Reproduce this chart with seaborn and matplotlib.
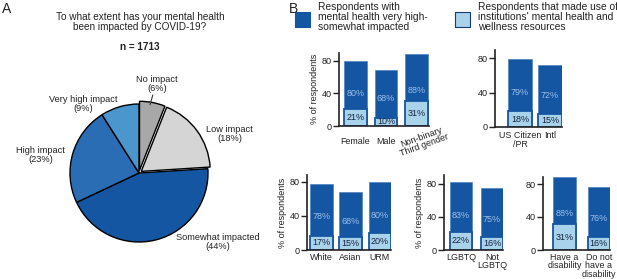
import matplotlib
matplotlib.use("Agg")
import matplotlib.pyplot as plt
from matplotlib.patches import Rectangle
from matplotlib.transforms import ScaledTranslation
import seaborn as sns
import pandas as pd

# ---------------- data ----------------
pie_labels = ["No impact", "Low impact", "Somewhat impacted", "High impact", "Very high impact"]
pie_values = [6, 18, 44, 23, 9]

gender_cats = ["Female", "Male", "Non-binary\nThird gender"]
gender_impacted = [80, 68, 88]
gender_resources = [21, 10, 31]

citizen_cats = ["US Citizen\n/PR", "Intl"]
citizen_impacted = [79, 72]
citizen_resources = [18, 15]

race_cats = ["White", "Asian", "URM"]
race_impacted = [78, 68, 80]
race_resources = [17, 15, 20]

lgbtq_cats = ["LGBTQ", "Not\nLGBTQ"]
lgbtq_impacted = [83, 75]
lgbtq_resources = [22, 16]

disab_cats = ["Have a\ndisability", "Do not\nhave a\ndisability"]
disab_impacted = [88, 76]
disab_resources = [31, 16]

legend_labels = ["Respondents with\nmental health very high-\nsomewhat impacted",
                 "Respondents that made use of\ninstitutions' mental health and\nwellness resources"]

# ---------------- style ----------------
sns.set_theme(style="white")
plt.rcParams["font.family"] = ["Liberation Sans", "DejaVu Sans"]

DARK = "#1556a2"
LIGHT = "#a9d3ea"
DARK_TXT = "#9cc0ea"
LIGHT_TXT = "#15243f"
pie_colors = ["#a8a8a8", "#d5d5d5", "#1556a2", "#2a6db4", "#4b97cd"]

W, H = 617, 279
fig = plt.figure(figsize=(W / 100, H / 100), dpi=100)


def px_axes(x0, ytop, x1, ybot):
    return fig.add_axes([x0 / W, 1 - ybot / H, (x1 - x0) / W, (ybot - ytop) / H])


# ---------------- Panel A: pie ----------------
cx, cy, R = 139, 173, 69
axp = px_axes(0, 60, 280, 279)
wedges, _ = axp.pie(pie_values, colors=pie_colors, startangle=90, counterclock=False,
                    explode=[0.04, 0.04, 0, 0, 0],
                    wedgeprops=dict(edgecolor="black", linewidth=1.0))
axp.set_aspect("auto")
axp.set_xlim((0 - cx) / R, (280 - cx) / R)
axp.set_ylim((cy - 279) / R, (cy - 60) / R)
axp.axis("off")

lab_pos = {"No impact": (0.26, 1.29), "Low impact": (1.31, 0.565),
           "Somewhat impacted": (1.14, -1.0), "High impact": (-1.43, 0.254),
           "Very high impact": (-0.81, 1.0)}
for lab, v in zip(pie_labels, pie_values):
    x, y = lab_pos[lab]
    axp.text(x, y, f"{lab}\n({v}%)", ha="center", va="center", fontsize=6.7,
             color="#222222", linespacing=1.0)
axp.plot([0.20, 0.16], [1.13, 0.99], color="#333333", lw=0.8)

fig.text(140 / W, 1 - 22 / H, "To what extent has your mental health\nbeen impacted by COVID-19?",
         ha="center", va="center", fontsize=7.2, color="#222222", linespacing=1.05)
fig.text(140 / W, 1 - 47 / H, "n = 1713", ha="center", va="center", fontsize=7.2,
         fontweight="bold", color="#222222")
fig.text(2 / W, 1 - 9 / H, "A", ha="left", va="center", fontsize=10, color="#222222")
fig.text(289 / W, 1 - 9 / H, "B", ha="left", va="center", fontsize=10, color="#222222")

# ---------------- legend ----------------
for xpx, col, txt in [(295, DARK, legend_labels[0]), (455, LIGHT, legend_labels[1])]:
    fig.patches.append(Rectangle((xpx / W, 1 - 27 / H), 15 / W, 15 / H, transform=fig.transFigure,
                                 facecolor=col, edgecolor="#1a3a6a" if col == LIGHT else DARK,
                                 linewidth=0.8))
    fig.text((xpx + 23) / W, 1 - 1.5 / H, txt, ha="left", va="top", fontsize=7.4,
             color="#222222", linespacing=1.0)


# ---------------- Panel B: bars ----------------
def bar_panel(rect, cats, imp, res, width, xlim, ylim, ylabel=None, xpad=3.0):
    ax = px_axes(*rect)
    df = pd.DataFrame({"cat": cats, "imp": imp, "res": res})
    sns.barplot(data=df, x="cat", y="imp", color=DARK, saturation=1, width=width,
                edgecolor="#4d82c4", linewidth=0.5, errorbar=None, ax=ax)
    sns.barplot(data=df, x="cat", y="res", color=LIGHT, saturation=1, width=width,
                edgecolor=DARK, linewidth=1.3, errorbar=None, ax=ax)
    ax.bar_label(ax.containers[0], labels=[f"{v}%" for v in imp], label_type="center",
                 color=DARK_TXT, fontsize=6.5)
    ax.bar_label(ax.containers[1], labels=[f"{v}%" for v in res], label_type="center",
                 color=LIGHT_TXT, fontsize=6.5)
    ax.set_xlim(*xlim)
    ax.set_ylim(*ylim)
    ax.set_yticks([0, 40, 80])
    ax.set_xlabel("")
    ax.set_ylabel(ylabel if ylabel else "", fontsize=6.5, color="#222222", labelpad=2)
    sns.despine(ax=ax)
    for s in ("left", "bottom"):
        ax.spines[s].set_linewidth(1.2)
        ax.spines[s].set_color("#222222")
    ax.tick_params(axis="y", length=4, width=1.0, color="#222222", labelsize=6.6, pad=1,
                   left=True, labelcolor="#222222")
    ax.tick_params(axis="x", length=0, labelsize=6.4, pad=xpad, labelcolor="#222222")
    for t in ax.get_xticklabels():
        t.set_linespacing(0.95)
    return ax


ax1 = bar_panel((339, 52.5, 428.7, 126), gender_cats, gender_impacted, gender_resources,
                0.75, (-0.54, 2.4), (0, 90), "% of respondents", xpad=11)
for t in ax1.get_xticklabels():
    t.set_va("center")
    if "\n" in t.get_text():
        t.set_rotation(20)
        t.set_rotation_mode("anchor")
        t.set_ha("center")
        t.set_linespacing(0.9)
        t.set_transform(t.get_transform() + ScaledTranslation(6 / 100, 0, fig.dpi_scale_trans))

ax2 = bar_panel((495, 49.9, 561.9, 126.7), citizen_cats, citizen_impacted, citizen_resources,
                0.8, (-0.83, 1.4), (0, 90), None, xpad=3)
ax3 = bar_panel((307, 175, 391.4, 250), race_cats, race_impacted, race_resources,
                0.78, (-0.49, 2.39), (0, 88), "% of respondents", xpad=2)
ax4 = bar_panel((444, 174.9, 503.2, 250), lgbtq_cats, lgbtq_impacted, lgbtq_resources,
                0.71, (-0.55, 1.36), (0, 91), "% of respondents", xpad=2)
ax5 = bar_panel((543, 177.4, 609.9, 250), disab_cats, disab_impacted, disab_resources,
                0.65, (-0.62, 1.32), (0, 88), None, xpad=2)

fig.savefig("out.png", dpi=100)
